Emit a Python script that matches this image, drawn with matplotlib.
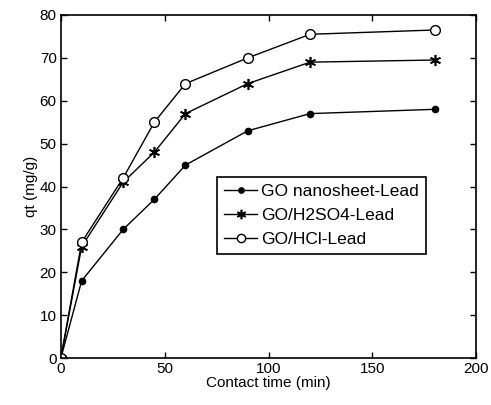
import matplotlib.pyplot as plt

plt.rcParams['font.family'] = ['Liberation Sans', 'DejaVu Sans']

# contact time (min)
time_min = [0, 10, 30, 45, 60, 90, 120, 180]

# adsorption capacity qt (mg/g)
qt_go = [0, 18, 30, 37, 45, 53, 57, 58]
qt_h2so4 = [0, 26, 41, 48, 57, 64, 69, 69.5]
qt_hcl = [0, 27, 42, 55, 64, 70, 75.5, 76.5]

labels = ['GO nanosheet-Lead', 'GO/H2SO4-Lead', 'GO/HCl-Lead']

fig = plt.figure(figsize=(4.91, 4.05), dpi=100)
ax = fig.add_axes([0.124, 0.116, 0.846, 0.847])

ax.plot(time_min, qt_go, color='black', lw=1, marker='o', ms=4.5,
        mfc='black', label=labels[0])
ax.plot(time_min, qt_h2so4, color='black', lw=1, marker=(6, 2, 0), ms=8,
        mew=1.2, label=labels[1])
ax.plot(time_min, qt_hcl, color='black', lw=1, marker='o', ms=7,
        mfc='white', label=labels[2])

ax.set_xlim(0, 200)
ax.set_ylim(0, 80)
ax.set_xticks([0, 50, 100, 150, 200])
ax.set_yticks(range(0, 81, 10))
ax.tick_params(direction='in', top=True, right=True, labelsize=11,
               length=4, width=1, pad=3)
for s in ax.spines.values():
    s.set_linewidth(1.2)

ax.set_xlabel('Contact time (min)', fontsize=11, labelpad=0)
ax.set_ylabel('qt (mg/g)', fontsize=11, labelpad=1)

leg = ax.legend(loc='upper left', bbox_to_anchor=(0.377, 0.528),
                borderaxespad=0, fancybox=False, edgecolor='black',
                fontsize=12.5, handlelength=1.9, handletextpad=0.2,
                borderpad=0.4, labelspacing=0.5, framealpha=1,
                markerscale=0.85)
leg.get_frame().set_linewidth(1.2)

fig.savefig('out.png', dpi=100)
